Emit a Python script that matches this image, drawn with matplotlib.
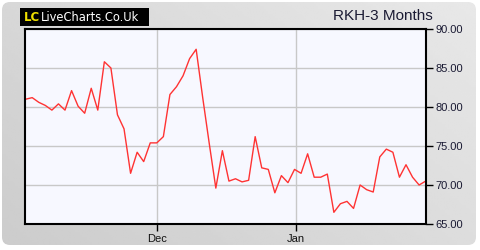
import numpy as np
import matplotlib
matplotlib.use("Agg")
import matplotlib.pyplot as plt
from matplotlib.patches import FancyBboxPatch, Rectangle

# RKH closing prices, about 3 months of trading days
prices = [81.0, 81.2, 80.6, 80.2, 79.6, 80.4, 79.6, 82.1, 80.1, 79.2,
          82.4, 79.6, 85.8, 85.0, 79.0, 77.2, 71.5, 74.2, 73.0, 75.4,
          75.4, 76.2, 81.6, 82.6, 84.0, 86.2, 87.4, 81.2, 75.3, 69.6,
          74.4, 70.5, 70.8, 70.4, 70.6, 76.2, 72.2, 72.0, 69.0, 71.2,
          70.3, 72.0, 71.5, 74.0, 71.0, 71.0, 71.4, 66.5, 67.6, 67.9,
          67.0, 70.0, 69.4, 69.1, 73.6, 74.6, 74.2, 71.0, 72.6, 71.0,
          70.0, 70.5]
month_labels = ["Dec", "Jan"]
month_pos = [20.0, 41.2]
y_ticks = [65, 70, 75, 80, 85, 90]

W, H = 480, 250
fig = plt.figure(figsize=(W / 100, H / 100), dpi=100)
fig.patch.set_facecolor("white")

# grey rounded panel with a soft gradient
bg = fig.add_axes([0, 0, 1, 1])
bg.set_xlim(0, W)
bg.set_ylim(H, 0)
bg.axis("off")
gx = np.linspace(0, 1, 200)
gy = np.linspace(0, 1, 100)
grad = 0.80 + 0.11 * (gx[None, :] * 0.6 + (1 - gy[:, None]) * 0.4)
im = bg.imshow(grad, cmap="gray", vmin=0, vmax=1, extent=[0, 477, 246, 0],
               aspect="auto", interpolation="bilinear")
panel = FancyBboxPatch((2, 2), 474, 243, boxstyle="round,pad=0,rounding_size=8",
                       transform=bg.transData, facecolor="none", edgecolor="none")
bg.add_patch(panel)
im.set_clip_path(panel)

# logo
bg.add_patch(Rectangle((20, 8), 129, 18, facecolor="black", edgecolor="none"))
bg.text(24, 17.5, "LC", color="#f0e000", fontsize=8.5, fontweight="bold",
        family="DejaVu Sans", va="center", ha="left")
bg.text(41, 17.5, "LiveCharts.Co.Uk", color="white", fontsize=8.3,
        family="DejaVu Sans", va="center", ha="left")
bg.text(433, 16, "RKH-3 Months", color="#1a1a33", fontsize=11,
        family="Liberation Sans", va="center", ha="right")

# price axes
x0, x1, y0, y1 = 25, 426, 29, 224
ax = fig.add_axes([x0 / W, 1 - y1 / H, (x1 - x0) / W, (y1 - y0) / H])
ax.set_facecolor("#f7f8ff")
x = np.arange(len(prices))
ax.plot(x, prices, color="#ff3333", linewidth=1.0)
ax.set_xlim(-0.1, len(prices) - 0.95)
ax.set_ylim(65, 90)
ax.set_xticks(month_pos)
ax.set_xticklabels(month_labels)
ax.set_yticks(y_ticks)
ax.set_yticklabels(["%.2f" % v for v in y_ticks])
ax.yaxis.tick_right()
ax.grid(True, color="#c8c8c8", linewidth=1.0)
ax.set_axisbelow(True)
for s in ax.spines.values():
    s.set_linewidth(1.5)
    s.set_color("black")
ax.tick_params(axis="y", direction="out", length=5, width=1, pad=2,
               labelsize=8, labelcolor="#1a1a33")
ax.tick_params(axis="x", direction="out", length=5, width=1, pad=2,
               labelsize=8, labelcolor="#111111")
for t in ax.get_xticklabels() + ax.get_yticklabels():
    t.set_family("Liberation Sans")

fig.savefig("out.png", dpi=100, facecolor=fig.get_facecolor())
